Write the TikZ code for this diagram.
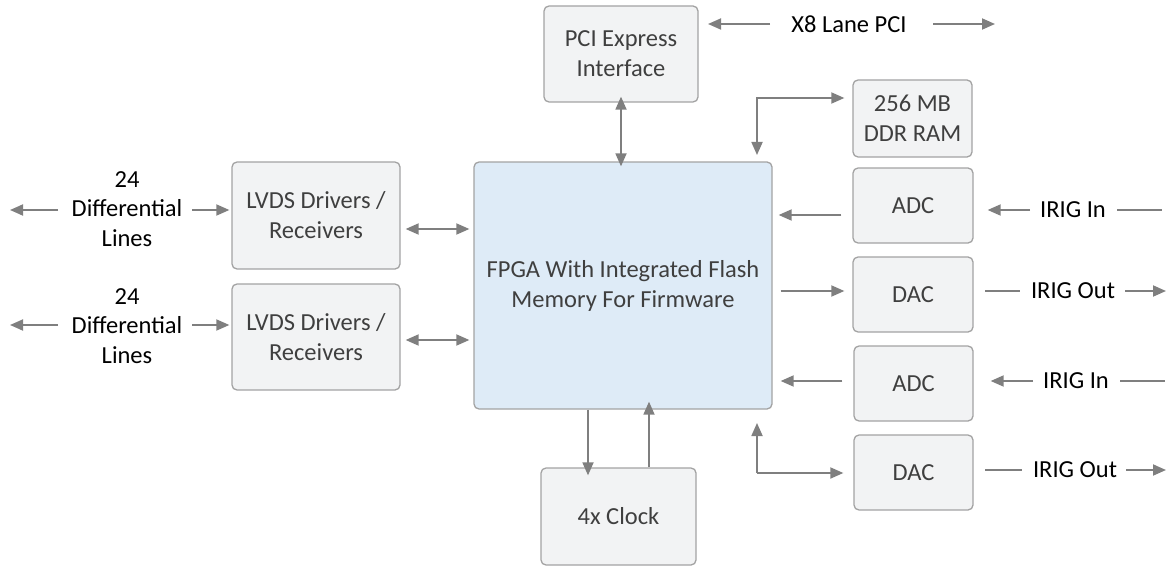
\documentclass[tikz,border=0pt]{standalone}
\usepackage{fontspec}
\setmainfont{Carlito}
\usetikzlibrary{arrows.meta}
\definecolor{boxfill}{HTML}{F2F3F4}
\definecolor{boxdraw}{HTML}{A3A3A3}
\definecolor{fpgafill}{HTML}{DEEBF7}
\definecolor{arr}{HTML}{7F7F7F}
\definecolor{btext}{HTML}{3F3F3F}
\tikzset{
  blk/.style={draw=boxdraw, line width=1.3pt, fill=boxfill, rounded corners=5pt, align=center, text=btext, font=\fontsize{24.5}{30}\selectfont, inner sep=0pt},
  lbl/.style={align=center, text=black, font=\fontsize{24.5}{29.5}\selectfont, inner sep=1pt},
  tip/.tip={Triangle[length=13pt,width=11pt]},
  con/.style={draw=arr, line width=1.8pt, -tip},
  dcon/.style={draw=arr, line width=1.8pt, tip-tip},
  pl/.style={draw=arr, line width=1.8pt}
}
\begin{document}
\begin{tikzpicture}[x=1pt,y=-1pt]
\useasboundingbox (0,0) rectangle (1167,567);
% boxes
\node[blk, minimum width=154pt, minimum height=96pt] (pci) at (621,54) {PCI Express\\Interface};
\node[blk, minimum width=119pt, minimum height=77pt] (ddr) at (912.5,118.5) {256 MB\\DDR RAM};
\node[blk, draw=boxdraw, fill=fpgafill, minimum width=298pt, minimum height=247pt] (fpga) at (623,285.5) {FPGA With Integrated Flash\\Memory For Firmware};
\node[blk, minimum width=168pt, minimum height=107pt] (lv1) at (316,215.5) {LVDS Drivers /\\Receivers};
\node[blk, minimum width=168pt, minimum height=106pt] (lv2) at (316,337) {LVDS Drivers /\\Receivers};
\node[blk, minimum width=120pt, minimum height=75pt] (adc1) at (913,205.5) {ADC};
\node[blk, minimum width=120pt, minimum height=75pt] (dac1) at (913,294.5) {DAC};
\node[blk, minimum width=119pt, minimum height=75pt] (adc2) at (913.5,383.5) {ADC};
\node[blk, minimum width=119pt, minimum height=75pt] (dac2) at (913.5,472.5) {DAC};
\node[blk, minimum width=155pt, minimum height=97pt] (clk) at (618.5,516.5) {4x Clock};
% labels
\node[lbl] (d1) at (127,209) {24\\Differential\\Lines};
\node[lbl] (d2) at (127,326) {24\\Differential\\Lines};
\node[lbl] (x8) at (849,24) {X8 Lane PCI};
\node[lbl] (in1) at (1073,210) {IRIG In};
\node[lbl] (out1) at (1073,291) {IRIG Out};
\node[lbl] (in2) at (1076,381) {IRIG In};
\node[lbl] (out2) at (1075,470) {IRIG Out};
% coordinates for free ends
\coordinate (dl1) at (10,210);
\coordinate (dl2) at (10,325);
\coordinate (x8l) at (708,24);
\coordinate (x8r) at (995,24);
\coordinate (in1r) at (1162,210);
\coordinate (in2r) at (1165,381);
\coordinate (out1r) at (1166,291);
\coordinate (out2r) at (1166,470);
% left side
\draw[con] (58,210) -- (dl1);
\draw[con] (192,210) -- ([xshift=-2pt]lv1.west |- 0,210);
\draw[con] (58,325) -- (dl2);
\draw[con] (192,325) -- ([xshift=-2pt]lv2.west |- 0,325);
\draw[dcon] ([xshift=5pt]lv1.east |- 0,229) -- ([xshift=-4pt]fpga.west |- 0,229);
\draw[dcon] ([xshift=5pt]lv2.east |- 0,340) -- ([xshift=-4pt]fpga.west |- 0,340);
% top
\draw[dcon] ([yshift=6pt]pci.south) -- ([yshift=-5pt]fpga.north -| pci.south);
\draw[con] (770,24) -- (x8l);
\draw[con] (933,24) -- (x8r);
\draw[dcon] (757,155) |- ([xshift=-8pt]ddr.west |- 0,98);
% right side
\draw[con] ([xshift=-11pt]adc1.west |- 0,215) -- ([xshift=6pt]fpga.east |- 0,215);
\draw[con] ([xshift=8pt]fpga.east |- 0,291) -- ([xshift=-8pt]dac1.west |- 0,291);
\draw[con] ([xshift=-11pt]adc2.west |- 0,381) -- ([xshift=8pt]fpga.east |- 0,381);
\draw[con] (757,473) -- ([xshift=-10pt]dac2.west |- 0,473);
\draw[con] (757,473) -- (757,423);
% IRIG
\draw[con] (1030,210) -- ([xshift=14pt]adc1.east |- 0,210);
\draw[pl] (1117,210) -- (in1r);
\draw[pl] (985,291) -- (1020,291);
\draw[con] (1125,291) -- (out1r);
\draw[con] (1033,381) -- ([xshift=17pt]adc2.east |- 0,381);
\draw[pl] (1120,381) -- (in2r);
\draw[pl] (985,470) -- (1022,470);
\draw[con] (1126,470) -- (out2r);
% clock
\draw[con] (fpga.south -| 588,0) -- ([yshift=-8pt]clk.north -| 588,0);
\draw[con] (clk.north -| 649,0) -- ([yshift=8pt]fpga.south -| 649,0);
\end{tikzpicture}
\end{document}
